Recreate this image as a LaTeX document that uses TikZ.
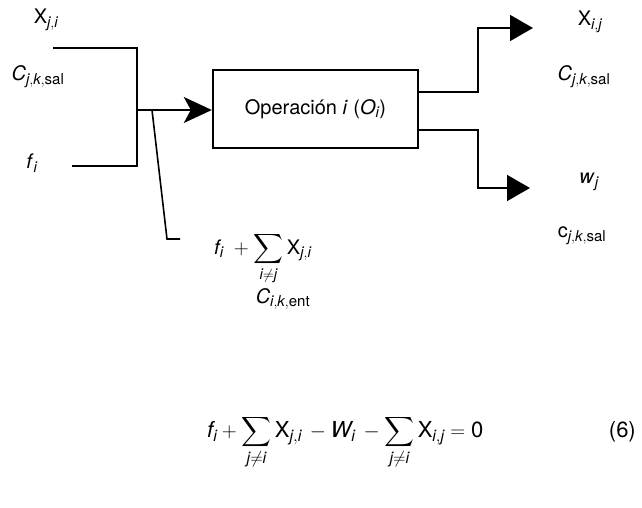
\documentclass[tikz,border=0pt]{standalone}
\usepackage{amsmath}
\usepackage{fontspec}
\setmainfont{TeX Gyre Heros}
\usetikzlibrary{arrows.meta}
\DeclareMathSizes{20}{20}{15}{12}
\DeclareMathSizes{22}{22}{16}{12}
\newcommand{\vv}[1]{\textit{#1}}
\begin{document}
\begin{tikzpicture}[x=1pt,y=-1pt,
  lbl/.style={inner sep=0pt,font=\fontsize{20}{24}\selectfont},
  eqlbl/.style={inner sep=0pt,font=\fontsize{22}{26}\selectfont},
  wire/.style={line width=1.6pt},
  inarrow/.style={wire,-{Stealth[length=28pt,width=26pt,inset=7pt]}},
  outarrow/.style={wire,-{Triangle[length=23pt,width=26pt]}},
  opbox/.style={draw,line width=2.4pt,minimum width=205pt,minimum height=78pt,inner sep=0pt,font=\fontsize{20}{24}\selectfont}]
\useasboundingbox (0,0) rectangle (642,508);
% labels left
\node[lbl] (xji) at (46,20) {X$_{\vv{j},\vv{i}}$};
\node[lbl] (cjk) at (38,77) {\vv{C}$_{\vv{j},\vv{k},\text{sal}}$};
\node[lbl] (fi) at (32,163) {\vv{f}$_{\vv{i}}$};
% box
\node[opbox] (op) at (315.5,109) {Operación \vv{i} (\vv{O}$_{\vv{i}}$)};
% input wires
\coordinate (t1) at (53,48);
\coordinate (t2) at (137,48);
\coordinate (b1) at (72,166);
\coordinate (b2) at (137,166);
\coordinate (m) at (137,110);
\coordinate (d0) at (152,110);
\coordinate (d1) at (167,239);
\coordinate (d2) at (180,239);
\draw[wire] (t1) -- (t2) -- (b2) -- (b1);
\draw[inarrow] (m) -- (op.west |- m);
\draw[wire] (d0) -- (d1) -- (d2);
% output wires
\coordinate (o1) at (478,28);
\coordinate (o1e) at (533,28);
\coordinate (o2) at (478,188);
\coordinate (o2e) at (530,188);
\draw[outarrow] (op.east |- 0,92) -| (o1) -- (o1e);
\draw[outarrow] (op.east |- 0,130) -| (o2) -- (o2e);
% labels right
\node[lbl] (xij) at (590,22) {X$_{\vv{i},\vv{j}}$};
\node[lbl] (cjk2) at (584,77) {\vv{C}$_{\vv{j},\vv{k},\text{sal}}$};
\node[lbl] (wj) at (589,182) {\vv{w}$_{\vv{j}}$};
\node[lbl] (cjk3) at (582,236) {c$_{\vv{j},\vv{k},\text{sal}}$};
% bottom labels
\node[lbl,anchor=base west] (sum) at (214,254) {$\vv{f}_{\vv{i}}\;+\displaystyle\sum_{\vv{i}\neq\vv{j}}\text{X}_{\vv{j},\vv{i}}$};
\node[lbl] (cik) at (283,299) {\vv{C}$_{\vv{i},\vv{k},\text{ent}}$};
% equation
\node[eqlbl,anchor=base west] (eq) at (207,437) {$\displaystyle \vv{f}_{\vv{i}}+\sum_{\vv{j}\neq\vv{i}}\text{X}_{\vv{j},\vv{i}}\,-\vv{W}_{\vv{i}}\,-\sum_{\vv{j}\neq\vv{i}}\text{X}_{\vv{i},\vv{j}}=\text{0}$};
\node[eqlbl,anchor=base east] (num) at (636,437) {(6)};
\end{tikzpicture}
\end{document}
